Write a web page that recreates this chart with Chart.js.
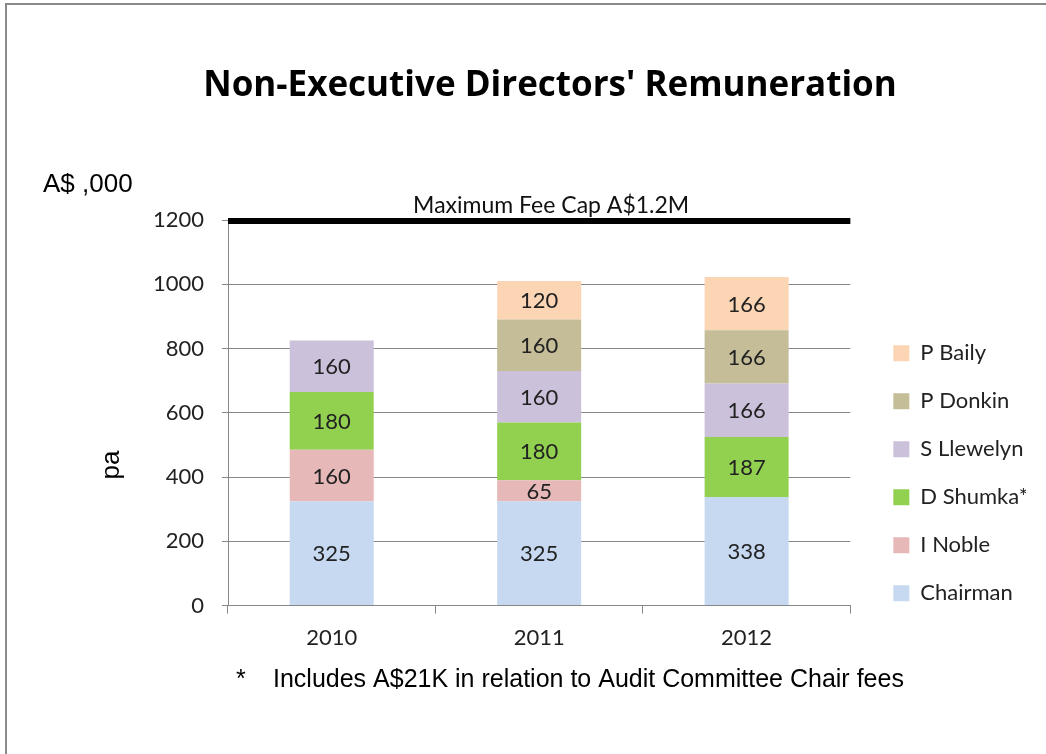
<!DOCTYPE html>
<html>
<head>
<meta charset="utf-8">
<script src="https://cdn.jsdelivr.net/npm/chart.js@4/dist/chart.umd.min.js"></script>
<style>
  html, body { margin: 0; padding: 0; background: #fff; }
  #wrap { position: relative; width: 1046px; height: 754px; overflow: hidden; }
  #frame { position: absolute; left: 5px; top: 3px; right: -10px; bottom: -10px;
           border-left: 2px solid #8a8a8a; border-top: 2px solid #8a8a8a; }
  canvas { position: absolute; left: 0; top: 0; }
</style>
</head>
<body>
<div id="wrap">
  <div id="frame"></div>
  <canvas id="chart" width="1046" height="754"></canvas>
</div>
<script>
// --- data ---
const years = ['2010', '2011', '2012'];
const chairman = [325, 325, 338];
const iNoble   = [160, 65, null];
const dShumka  = [180, 180, 187];
const sLlewelyn = [160, 160, 166];
const pDonkin  = [null, 160, 166];
const pBaily   = [null, 120, 166];
const yTicks = [0, 200, 400, 600, 800, 1000, 1200];
const FEE_CAP = 1200;
const FEE_CAP_LABEL = 'Maximum Fee Cap A$1.2M';
const FOOTNOTE = 'Includes A$21K in relation to Audit Committee Chair fees';

const CAL = 'Lato, "Open Sans", sans-serif';
const ARIAL = '"Liberation Sans", Arial, sans-serif';
const GRID = '#878787';

const series = [
  { label: 'Chairman',   data: chairman,  color: '#C6D9F1' },
  { label: 'I Noble',    data: iNoble,    color: '#E6B9B8' },
  { label: 'D Shumka*',  data: dShumka,   color: '#92D050' },
  { label: 'S Llewelyn', data: sLlewelyn, color: '#CCC1DA' },
  { label: 'P Donkin',   data: pDonkin,   color: '#C4BD97' },
  { label: 'P Baily',    data: pBaily,    color: '#FCD5B5' },
];

// segment values, fee cap line and the loose text bits
const extras = {
  id: 'extras',
  afterDatasetsDraw(chart) {
    const { ctx, chartArea: a, scales: { y } } = chart;
    ctx.save();
    ctx.font = '22px ' + CAL;
    ctx.fillStyle = '#222';
    ctx.textAlign = 'center';
    ctx.textBaseline = 'middle';
    chart.data.datasets.forEach((ds, i) => {
      chart.getDatasetMeta(i).data.forEach((bar, j) => {
        const v = ds.data[j];
        if (v == null) return;
        ctx.fillText(v, bar.x, (bar.y + bar.base) / 2 + 1);
      });
    });

    const yc = y.getPixelForValue(FEE_CAP);
    ctx.strokeStyle = '#000';
    ctx.lineWidth = 6;
    ctx.beginPath();
    ctx.moveTo(a.left, yc + 1);
    ctx.lineTo(a.right, yc + 1);
    ctx.stroke();

    ctx.font = '23px ' + CAL;
    ctx.textBaseline = 'alphabetic';
    ctx.fillStyle = '#111';
    ctx.fillText(FEE_CAP_LABEL, (a.left + a.right) / 2 + 12, yc - 7);
    ctx.restore();
  },
  afterDraw(chart) {
    const { ctx, chartArea: a } = chart;
    ctx.save();
    ctx.fillStyle = '#000';
    ctx.textBaseline = 'middle';
    ctx.textAlign = 'left';
    ctx.font = '26px ' + ARIAL;
    ctx.fillText('A$ ,000', a.left - 185, a.top - 35);

    ctx.save();
    ctx.translate(a.left - 116, a.top + 245);
    ctx.rotate(-Math.PI / 2);
    ctx.textAlign = 'center';
    ctx.fillText('pa', 0, 0);
    ctx.restore();

    ctx.font = '25px ' + ARIAL;
    ctx.fillText('*', a.left + 8, a.bottom + 75);
    ctx.fillText(FOOTNOTE, a.left + 45, a.bottom + 75);
    ctx.restore();
  }
};

new Chart(document.getElementById('chart'), {
  type: 'bar',
  data: {
    labels: years,
    datasets: series.map(s => ({
      label: s.label,
      data: s.data,
      backgroundColor: s.color,
      borderWidth: 0,
      categoryPercentage: 1,
      barPercentage: 0.405,
    })),
  },
  options: {
    responsive: false,
    animation: false,
    layout: { padding: { left: 74, right: 20, top: 0, bottom: 92 } },
    plugins: {
      title: {
        display: true,
        text: "Non-Executive Directors' Remuneration",
        color: '#000',
        font: { family: '"Open Sans", Lato, sans-serif', size: 35, weight: 'bold' },
        padding: { top: 65, bottom: 113 },
      },
      legend: {
        position: 'right',
        reverse: true,
        title: { display: true, text: '', font: { size: 22 }, padding: { top: 258, bottom: 0 } },
        labels: {
          boxWidth: 16, boxHeight: 16, padding: 26,
          color: '#222',
          font: { family: CAL, size: 22 },
        },
      },
      tooltip: { enabled: false },
    },
    scales: {
      x: {
        stacked: true,
        grid: { display: true, drawOnChartArea: false, color: GRID, tickLength: 8, offset: true },
        border: { color: GRID },
        ticks: { color: '#222', font: { family: CAL, size: 22 }, padding: 11 },
      },
      y: {
        stacked: true,
        min: yTicks[0],
        max: yTicks[yTicks.length - 1],
        afterBuildTicks: s => { s.ticks = yTicks.map(v => ({ value: v })); },
        afterFit: s => { s.width = 154; },
        grid: { color: GRID, tickLength: 6 },
        border: { color: GRID },
        ticks: { color: '#222', font: { family: CAL, size: 22 }, padding: 18, callback: v => String(v) },
      },
      gap: {
        // spacer between plot and legend
        type: 'linear',
        position: 'right',
        display: true,
        grid: { display: false },
        border: { display: false },
        ticks: { display: false },
        afterFit: s => { s.width = 17; },
      },
    },
  },
  plugins: [extras],
});
</script>
</body>
</html>
